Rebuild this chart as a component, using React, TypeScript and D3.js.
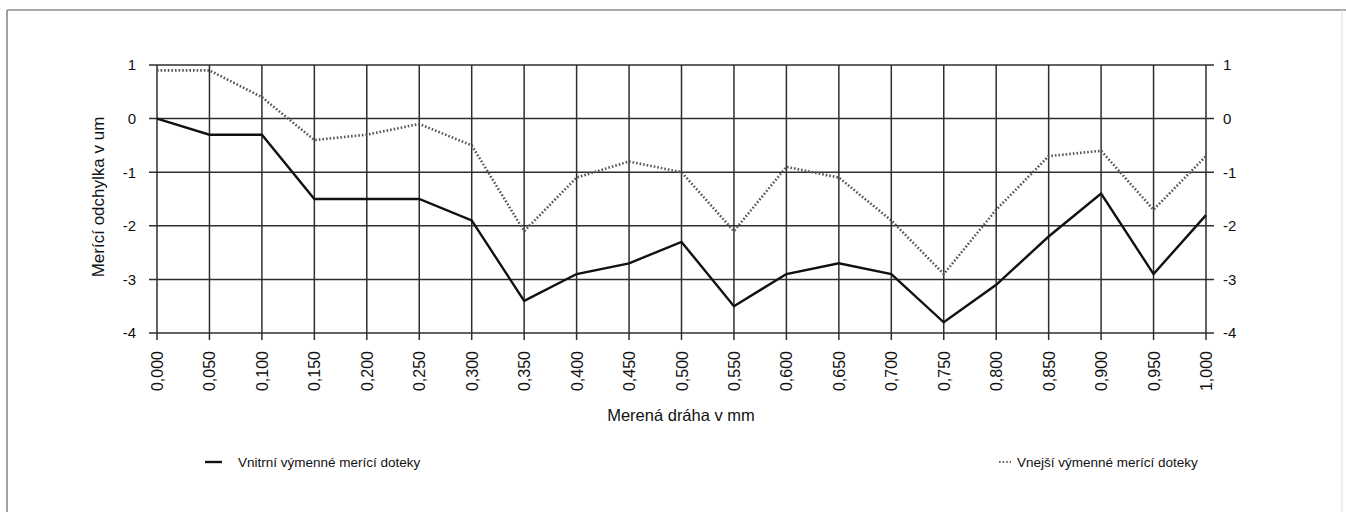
import React, { useEffect, useRef } from 'react';
import * as d3 from 'd3';

// measured path in mm (labels as printed, with decimal comma)
const distances = ['0,000', '0,050', '0,100', '0,150', '0,200', '0,250', '0,300', '0,350', '0,400', '0,450', '0,500',
  '0,550', '0,600', '0,650', '0,700', '0,750', '0,800', '0,850', '0,900', '0,950', '1,000'];

// Vnitrní výmenné merící doteky (solid)
const innerTouch = [0, -0.3, -0.3, -1.5, -1.5, -1.5, -1.9, -3.4, -2.9, -2.7, -2.3,
  -3.5, -2.9, -2.7, -2.9, -3.8, -3.1, -2.2, -1.4, -2.9, -1.8];

// Vnejší výmenné merící doteky (dotted)
const outerTouch = [0.9, 0.9, 0.4, -0.4, -0.3, -0.1, -0.5, -2.1, -1.1, -0.8, -1.0,
  -2.1, -0.9, -1.1, -1.9, -2.9, -1.7, -0.7, -0.6, -1.7, -0.7];

const yTicks = [1, 0, -1, -2, -3, -4];

const FONT = '"Liberation Sans", Arial, sans-serif';

export default function App() {
  const ref = useRef<SVGSVGElement>(null);

  useEffect(() => {
    const svg = d3.select(ref.current);
    svg.selectAll('*').remove();

    const left = 157, right = 1206, top = 65, bottom = 333;
    const x = d3.scalePoint<string>().domain(distances).range([left, right]);
    const y = d3.scaleLinear().domain([-4, 1]).range([bottom, top]);

    // outer frame
    svg.append('line').attr('x1', 7).attr('x2', 1346).attr('y1', 10).attr('y2', 10)
      .attr('stroke', '#8a8a8a').attr('stroke-width', 1.6);
    svg.append('line').attr('x1', 7).attr('x2', 7).attr('y1', 10).attr('y2', 512)
      .attr('stroke', '#8a8a8a').attr('stroke-width', 1.6);
    svg.append('line').attr('x1', 1342).attr('x2', 1342).attr('y1', 10).attr('y2', 512)
      .attr('stroke', '#e2e2e2').attr('stroke-width', 1.2);

    const grid = svg.append('g').attr('stroke', '#2e2e2e').attr('stroke-width', 1.5);
    grid.selectAll('line.h').data(yTicks).join('line')
      .attr('x1', left - 8).attr('x2', right + 8)
      .attr('y1', d => y(d)).attr('y2', d => y(d));
    grid.selectAll('line.v').data(distances).join('line')
      .attr('x1', d => x(d)!).attr('x2', d => x(d)!)
      .attr('y1', top).attr('y2', bottom + 7);

    // y tick labels, both sides
    svg.append('g').selectAll('text').data(yTicks).join('text')
      .attr('x', 136).attr('y', d => y(d)).attr('dy', '0.36em')
      .attr('text-anchor', 'end')
      .style('font', `15px ${FONT}`).attr('fill', '#111')
      .text(d => String(d));
    svg.append('g').selectAll('text').data(yTicks).join('text')
      .attr('x', 1223).attr('y', d => y(d)).attr('dy', '0.36em')
      .attr('text-anchor', 'start')
      .style('font', `15px ${FONT}`).attr('fill', '#111')
      .text(d => String(d));

    // x tick labels, rotated
    svg.append('g').selectAll('text').data(distances).join('text')
      .attr('transform', d => `translate(${x(d)! + 6},351) rotate(-90)`)
      .attr('text-anchor', 'end')
      .style('font', `16px ${FONT}`).attr('fill', '#111')
      .text(d => d);

    // axis titles
    svg.append('text')
      .attr('x', 681).attr('y', 421).attr('text-anchor', 'middle')
      .style('font', `16.5px ${FONT}`).attr('fill', '#111')
      .text('Merená dráha v mm');
    svg.append('text')
      .attr('transform', 'translate(104,197) rotate(-90)').attr('text-anchor', 'middle')
      .style('font', `17px ${FONT}`).attr('fill', '#111')
      .text('Merící odchylka v um');

    const line = d3.line<number>()
      .x((_, i) => x(distances[i])!)
      .y(d => y(d));

    svg.append('path').datum(outerTouch)
      .attr('d', line).attr('fill', 'none')
      .attr('stroke', '#555').attr('stroke-width', 2.6)
      .attr('stroke-dasharray', '1.6,2');
    svg.append('path').datum(innerTouch)
      .attr('d', line).attr('fill', 'none')
      .attr('stroke', '#111').attr('stroke-width', 2.4);

    // legend
    const legend = [
      { name: 'Vnitrní výmenné merící doteky', x: 205, dash: null as string | null, color: '#111', w: 2.4 },
      { name: 'Vnejší výmenné merící doteky', x: 999, dash: '1.6,2', color: '#666', w: 2 },
    ];
    const lg = svg.append('g').selectAll('g').data(legend).join('g')
      .attr('transform', d => `translate(${d.x},462)`);
    lg.append('line')
      .attr('x1', 0).attr('x2', d => (d.dash ? 12 : 17)).attr('y1', 0).attr('y2', 0)
      .attr('stroke', d => d.color).attr('stroke-width', d => d.w)
      .attr('stroke-dasharray', d => d.dash);
    lg.append('text')
      .attr('x', d => (d.dash ? 18 : 33)).attr('y', 5)
      .style('font', `13.5px ${FONT}`).attr('fill', '#111')
      .text(d => d.name);
  }, []);

  return (
    <svg ref={ref} width={1346} height={512}
      style={{ position: 'absolute', left: 0, top: 0, background: '#fff' }} />
  );
}
